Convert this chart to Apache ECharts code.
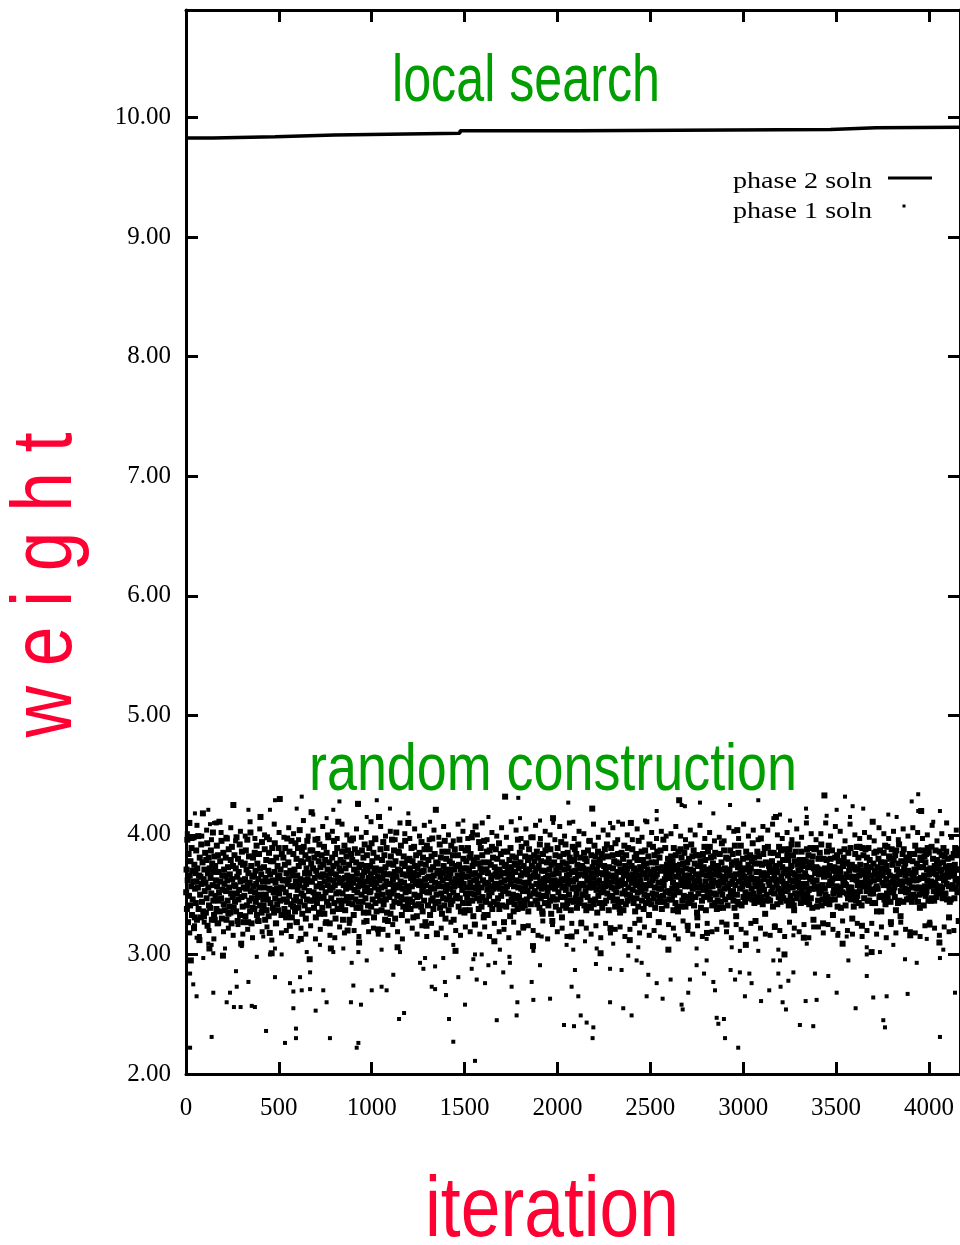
<!DOCTYPE html>
<html lang="en">
<head>
<meta charset="UTF-8">
<title>weight vs iteration</title>
<script src="https://cdn.jsdelivr.net/npm/echarts@6/dist/echarts.min.js"></script>
<style>
  html, body { margin: 0; padding: 0; background: #fff; }
  #chart { width: 960px; height: 1245px; }
</style>
</head>
<body>
<div id="chart"></div>
<script>
// axis ranges / ticks
const xMax = 4167;
const xInterval = 500;
const yMin = 2;
const yMax = 10.9;
const yInterval = 1;

// phase 2 (local search) best weight, step line: [iteration, weight]
const phase2Iter = [0, 145, 480, 800, 1475, 2100, 3470, 3715, 4167];
const phase2Weight = [9.83, 9.84, 9.855, 9.87, 9.89, 9.90, 9.915, 9.92, 9.92];

// phase 1 (random construction) weights in hundredths, sampled evenly over the iterations
const phase1Weight = [
  352,371,338,396,362,327,384,349,410,366,341,378,295,357,389,333,370,346,361,398,322,375,331,355,368,
  343,387,361,329,372,356,399,338,366,312,381,350,365,331,392,359,344,377,418,336,363,332,371,353,385,
  360,335,379,347,393,324,368,356,381,341,305,372,339,364,387,351,329,376,358,402,345,369,333,382,329,
  374,349,362,338,391,357,326,383,345,369,352,411,336,378,361,347,395,330,366,354,299,385,342,371,359,
  337,366,381,353,329,397,362,345,373,334,388,356,340,367,335,379,351,326,390,363,348,374,425,339,358,
  383,344,357,372,336,398,351,365,328,380,346,369,354,392,333,361,377,309,348,386,362,340,375,327,356,
  349,376,363,332,387,355,371,341,396,358,327,368,382,345,360,336,402,353,374,326,347,365,339,381,357,
  366,338,385,352,370,344,359,391,333,376,348,363,328,384,356,341,372,415,350,367,335,394,338,361,346,
  341,373,356,388,329,364,350,379,337,398,361,346,370,332,385,355,318,367,343,378,354,301,389,362,339,
  378,352,335,369,393,347,360,326,381,355,342,374,364,337,389,351,366,430,345,371,356,333,384,333,362,
  355,381,346,362,338,375,389,352,331,368,344,397,359,335,377,363,349,386,324,370,357,342,395,331,366,
  369,340,384,357,345,371,336,393,361,348,380,327,366,354,389,339,374,358,404,344,363,313,378,351,386,
  334,362,377,349,390,356,341,368,383,330,359,372,346,395,363,337,380,353,368,296,345,387,361,376,419,
  361,387,345,372,352,339,381,364,348,396,331,370,357,343,384,366,350,378,335,392,334,359,373,347,365,
  383,356,339,367,375,348,390,334,361,379,352,366,327,385,344,371,358,398,341,363,377,326,354,368,305,
  347,369,381,356,336,374,362,395,343,358,384,330,367,351,376,389,338,364,411,352,345,372,360,338,379,
  370,341,363,386,351,329,377,358,345,391,364,337,372,355,382,348,366,320,387,359,343,375,329,362,396,
  356,384,348,365,379,342,397,360,333,371,354,388,346,363,377,339,368,352,385,426,357,344,310,373,361,
  339,362,375,350,387,366,344,358,381,335,369,392,353,347,374,361,328,383,356,370,341,335,364,389,352,
  374,353,367,340,393,359,378,346,363,385,331,369,356,397,343,372,360,336,381,349,365,321,354,415,370,
  362,345,388,371,356,337,379,364,350,394,342,368,383,357,329,373,346,361,389,335,367,328,352,376,359,
  348,376,359,334,382,367,351,396,340,363,375,354,387,344,369,330,378,358,402,365,349,306,371,386,356,
  385,357,343,370,361,391,348,333,376,355,367,340,382,360,346,374,395,352,338,366,339,379,357,343,410,
  353,369,380,346,372,338,364,389,357,344,378,362,331,368,390,350,374,341,359,383,366,332,348,372,361,
  367,342,358,385,349,376,361,340,394,369,353,336,381,357,370,345,388,363,327,375,358,324,391,352,364,
  341,379,365,352,388,333,371,356,345,382,362,397,347,373,338,366,355,384,360,343,421,377,350,317,368,
  376,359,344,370,357,392,339,365,381,351,368,334,386,362,347,374,357,341,395,369,330,353,380,364,346,
  358,386,371,337,364,349,378,355,368,342,391,360,376,345,383,352,329,371,357,388,363,303,347,374,360,
  349,366,383,361,340,375,396,347,358,371,336,363,389,354,367,343,380,359,372,335,365,337,387,351,378,
  372,348,356,389,365,343,370,381,337,360,384,351,367,398,345,374,356,332,379,362,350,325,368,407,355,
  363,381,347,359,376,352,338,394,366,345,372,389,356,340,369,383,348,362,377,331,395,333,359,371,344,
  345,371,386,354,333,368,360,377,349,387,357,342,375,363,352,390,338,366,381,355,344,311,373,359,367,
  388,356,369,342,380,365,347,359,393,338,371,355,366,384,349,360,377,341,368,353,386,327,362,375,432,
  355,374,340,368,357,386,371,351,363,344,379,367,332,389,359,373,346,364,382,350,369,336,357,342,376,
  369,347,381,362,349,375,338,396,356,372,348,361,385,343,377,366,355,390,339,368,353,323,374,360,345,
  341,382,356,371,393,346,367,353,379,336,360,388,371,349,364,381,342,357,374,365,398,307,351,366,383,
  378,353,368,345,372,359,386,342,365,381,350,374,357,339,392,361,347,378,355,370,336,334,384,363,349,
  359,370,343,387,356,364,349,377,391,353,366,341,380,362,371,345,388,356,334,375,360,328,348,414,367,
  346,377,362,355,383,340,370,358,346,374,389,361,352,368,337,382,359,373,348,394,363,331,356,377,341,
  384,357,371,348,362,392,354,339,376,366,343,385,359,372,350,367,381,345,362,337,378,315,369,355,390,
  361,344,379,356,388,370,347,363,384,351,339,375,366,392,355,343,372,358,381,346,367,326,359,374,350,
  350,372,358,385,341,366,380,353,369,337,378,362,348,387,371,356,340,364,395,359,345,339,383,368,422,
  373,356,364,342,377,391,359,346,382,367,354,371,335,360,386,349,375,362,343,379,357,301,368,352,384,
  339,381,367,353,359,374,343,388,357,370,345,363,392,351,367,382,358,337,373,360,348,322,365,389,356,
  366,349,383,372,345,361,378,355,340,393,364,352,377,346,369,357,384,343,361,376,338,335,371,358,344,
  385,362,351,369,380,337,366,391,353,374,359,342,383,368,350,372,345,389,356,363,377,312,349,366,410,
  347,374,360,388,354,367,343,372,363,381,336,358,370,384,347,361,379,352,340,395,366,329,357,373,362,
  371,353,386,345,367,379,358,338,374,350,368,387,355,343,376,364,349,371,358,382,345,333,392,359,367,
  358,369,342,377,362,351,390,364,347,371,383,356,339,365,377,350,367,386,344,372,360,327,355,381,348,
  344,387,370,355,338,373,361,349,396,358,344,371,363,389,352,368,341,375,364,353,380,304,369,346,374,
  377,351,364,382,369,346,355,378,360,337,389,350,374,357,343,383,365,354,371,339,358,336,386,367,429,
  352,375,388,340,363,381,370,345,358,376,362,349,385,366,357,340,372,390,348,364,377,324,343,361,380,
  366,343,357,371,350,392,346,364,382,355,370,387,341,359,376,362,348,367,383,356,335,331,374,351,365,
  383,361,374,356,378,339,367,357,345,369,384,354,373,348,390,356,379,361,337,371,366,318,352,386,357,
  348,369,352,390,346,364,381,372,359,341,357,376,362,382,351,367,343,385,369,350,374,338,360,345,373,
  370,358,339,366,384,353,361,344,377,393,350,365,339,371,360,387,355,372,346,363,381,325,368,357,341,
  356,380,367,348,371,359,387,352,366,349,375,361,384,353,345,377,364,339,391,358,367,332,378,350,404,
  344,373,385,361,342,376,355,368,391,364,341,370,357,366,380,348,372,359,365,344,352,308,386,371,363,
  381,349,361,375,358,347,369,383,350,372,364,355,378,346,393,363,351,381,343,376,360,328,357,369,348,
  363,386,345,358,369,382,353,376,344,361,397,348,366,375,357,342,384,368,354,363,389,334,345,377,366,
  350,367,376,390,346,361,374,358,369,345,385,371,352,363,378,356,340,370,385,351,366,323,374,362,415,
  374,358,342,369,383,355,348,390,362,376,353,344,387,365,350,373,361,379,347,368,357,300,388,353,370,
  359,345,371,384,354,366,379,341,357,388,369,362,349,374,392,345,368,356,383,361,341,337,367,378,351,
  386,363,357,347,375,392,360,370,351,365,379,356,371,343,359,386,352,365,374,348,379,314,356,344,368,
  347,378,365,359,388,351,344,373,383,354,342,376,363,389,347,364,377,355,339,382,361,329,372,388,357,
  368,355,389,373,362,340,372,356,345,380,367,351,385,357,371,353,392,341,369,358,346,326,380,365,433,
  355,372,350,343,367,379,386,348,369,358,391,366,342,374,361,380,346,372,359,387,363,333,351,370,354,
  373,346,381,364,352,369,357,383,340,372,355,378,364,350,386,369,356,339,378,364,352,309,374,359,381,
  362,388,359,376,341,358,367,351,377,365,347,385,356,370,352,374,365,389,346,356,375,330,363,348,372,
  340,365,373,352,384,371,345,362,390,349,371,358,381,343,366,390,353,375,360,368,341,324,389,370,358,
  383,357,347,367,359,388,364,374,353,381,362,345,369,389,357,345,379,361,351,373,366,302,354,343,411,
  351,376,362,385,370,343,355,367,386,357,336,373,355,364,380,363,348,368,387,349,377,336,372,366,360,
  367,349,385,358,346,377,391,342,371,363,374,351,390,347,369,358,382,354,366,380,344,327,360,388,352,
  375,361,352,379,365,356,348,383,359,337,387,364,371,359,343,376,369,392,345,367,361,332,353,378,369,
  358,384,369,344,388,372,361,355,376,366,352,380,346,381,362,354,370,347,379,360,384,316,368,349,356,
  344,367,378,362,350,364,384,371,348,391,369,356,362,376,355,387,344,363,373,356,350,339,381,364,420,
  379,353,364,387,373,351,341,366,382,357,377,349,384,353,371,362,389,357,345,385,367,325,358,372,345,
  361,390,347,370,359,380,368,353,345,374,360,387,358,367,348,379,355,372,364,351,376,310,386,357,370,
  352,371,383,356,366,347,377,389,362,350,382,364,351,373,386,359,346,369,380,365,357,331,374,344,366,
  370,346,366,381,355,373,358,367,384,368,347,375,389,362,356,371,383,363,352,388,371,328,360,387,363
];

// phase 1 weights near the upper and lower rim of the dense band (hundredths), also evenly sampled
const phase1Rim = [
  401,318,397,324,408,315,399,327,404,320,396,313,410,326,402,319,398,322,406,316,
  395,325,403,317,399,321,411,314,397,328,405,319,400,323,396,312,409,326,402,318,
  398,320,406,315,401,327,396,322,412,317,399,324,404,313,397,321,407,326,400,316,
  403,314,397,323,409,318,400,326,395,320,405,315,398,327,402,319,411,322,396,317,
  407,321,399,316,403,325,396,319,410,313,401,328,397,322,405,317,399,324,408,315,
  396,326,404,318,398,322,407,314,400,327,395,320,409,316,403,323,397,319,402,325,
  400,317,410,323,396,315,402,326,399,319,406,321,398,314,411,327,404,318,397,322,
  405,324,398,320,408,316,397,328,403,313,400,325,396,319,407,322,399,315,410,326,
  397,319,403,327,401,322,395,317,409,324,398,314,404,326,400,318,406,321,396,323,
  409,315,400,321,396,326,405,318,398,323,411,316,402,320,397,327,403,314,399,325,
  401,322,407,313,399,328,396,320,404,317,400,324,408,315,397,326,402,319,395,321,
  398,327,395,319,406,314,403,325,397,321,409,318,399,326,404,313,396,322,407,317,
  404,316,409,324,400,320,397,315,402,327,396,322,405,319,398,325,410,314,401,323,
  396,323,401,318,410,325,399,321,407,316,403,328,395,320,409,317,400,326,397,315,
  402,320,398,326,395,317,406,323,401,314,397,325,403,318,396,327,405,321,399,319,
  406,318,402,315,397,324,400,327,408,322,395,316,401,323,410,319,398,320,404,328
];

// phase 1 stragglers: [iteration, weight]
const phase1Low = [
  [57,3.14],[120,3.09],[147,3.01],[93,2.97],[22,2.84],[39,2.75],[57,2.65],[138,2.31],[22,2.22],[269,2.86],
  [273,2.73],[336,2.77],[147,2.68],[237,2.68],[219,2.60],[258,2.56],[294,2.56],[354,2.57],[371,2.56],[431,2.36],
  [479,2.81],[533,2.26],[560,2.76],[578,2.69],[614,2.81],[623,2.70],[668,2.85],[668,2.71],[592,2.38],[592,2.30],
  [578,2.55],[698,2.53],[739,2.70],[757,2.60],[775,2.30],[888,2.60],[942,2.58],[901,2.74],[928,2.26],[919,2.22],
  [1000,2.70],[1053,2.73],[1080,2.70],[1116,2.83],[1147,2.46],[1174,2.51],[1260,2.93],[1278,2.88],[1341,2.90],[1323,2.73],
  [1341,2.71],[1394,2.77],[1400,2.66],[1416,2.46],[1439,2.27],[1502,2.58],[1538,2.88],[1466,2.81],[1556,2.11],[1565,2.79],
  [1610,2.76],[1673,2.45],[1708,2.85],[1753,2.73],[1784,2.60],[1780,2.49],[1861,2.77],[1870,2.62],[1960,2.63],[1906,2.91],
  [1870,3.03],[1915,3.15],[1741,2.98],[1744,2.93],[1664,2.93],[1628,2.91],[1592,3.00],[1690,3.04],[1547,2.96],[1556,3.00],
  [1439,3.08],[1385,2.97],[1287,2.97],[1152,3.02],[1053,3.04],[973,2.95],[928,3.02],[892,2.93],[847,3.05],[793,3.02],
  [721,3.08],[650,3.02],[605,3.11],[515,3.00],[452,3.00],[479,3.05],[381,2.98],[300,3.07],[210,3.05],[138,3.08],
  [416,3.15],
  [2049,3.08],[2094,2.87],[2076,2.73],[2112,2.65],[2125,2.49],[2035,2.41],[2089,2.40],[2157,2.43],[2193,2.39],[2189,2.30],
  [2207,2.92],[2283,2.88],[2345,2.87],[2283,2.60],[2354,2.55],[2399,2.49],[2426,2.95],[2453,2.93],[2381,2.99],[2489,2.83],
  [2534,2.76],[2566,2.63],[2480,2.65],[2609,2.79],[2668,2.58],[2674,2.54],[2713,2.79],[2749,2.91],[2803,2.95],[2789,2.84],
  [2704,2.68],[2839,2.77],[2848,2.70],[2857,2.47],[2896,2.46],[2902,2.30],[2866,2.42],[2973,2.22],[2932,2.87],[2982,2.85],
  [2956,2.79],[3033,2.84],[3045,2.76],[3009,2.65],[3096,2.61],[3140,2.70],[3162,2.95],[3198,2.95],[3189,2.84],[3201,2.73],
  [3212,2.60],[3230,2.54],[3243,2.78],[3270,2.85],[3305,2.41],[3336,2.61],[3377,2.40],[3386,2.84],[3395,2.62],[3458,2.82],
  [3503,2.68],[3566,2.95],[3605,2.55],[3665,2.82],[3665,3.00],[3700,2.64],[3772,2.65],[3754,2.45],[3763,2.39],[3871,2.96],
  [3885,2.67],[3934,2.93],[4059,2.97],[4059,2.31],[4140,2.68],[4077,3.04],[3988,3.13],[3808,3.08],[3736,3.02],[3665,3.06],
  [3557,3.15],[3512,3.18],[3342,3.09],[3270,3.16],[3189,3.04],[3081,3.03],[2982,3.03],[2938,3.06],[2803,3.13],[2749,3.05],
  [2633,3.16],[2552,3.15],[2435,3.06],[2300,3.09],[2211,3.05],[2148,3.11],[2085,3.04]
];
const phase1High = [
  [479,4.29],[623,4.32],[826,4.28],[928,4.25],[1027,4.29],[1098,4.22],[1197,4.18],[1789,4.31],[336,4.21],[452,4.21],
  [596,4.22],[120,4.21],[48,4.18],[973,4.15],[685,4.17],[757,4.14],[1314,4.11],[1493,4.12],[1628,4.15],[1798,4.14],
  [1906,4.12],[1977,4.10],[793,4.21],[151,4.10],[129,4.09],
  [2058,4.27],[2534,4.20],[2686,4.24],[2767,4.27],[2929,4.25],[3081,4.29],[3548,4.32],[3942,4.34],[3907,4.28],[3942,4.20],
  [3589,4.24],[3646,4.22],[3503,4.21],[3338,4.22],[2839,4.18],[3198,4.17],[3162,4.14],[3252,4.12],[3342,4.15],[3449,4.16],
  [3575,4.15],[3781,4.17],[4059,4.20],[4023,4.11],[3826,4.15],[2327,4.11],[2283,4.10],[2085,4.11],[2668,4.25],[2534,4.13],
  [2471,4.12]
];

const legendNames = ['phase 2 soln', 'phase 1 soln'];

// ---- build series data ----
const spread = arr => arr.map((w, i) => [Math.round((i + 0.5) * xMax / arr.length), w / 100]);
const phase2Data = phase2Iter.map((it, i) => [it, phase2Weight[i]]);
const bandData = spread(phase1Weight);
const rimData = spread(phase1Rim);
const strayData = phase1Low.concat(phase1High);

// stretch text horizontally to a measured width (condensed faces are not installed)
const measureCtx = document.createElement('canvas').getContext('2d');
function fit(text, size, family, width) {
  measureCtx.font = size + 'px ' + family;
  return width / measureCtx.measureText(text).width;
}

const SANS = 'Liberation Sans';
const SERIF = 'Liberation Serif';
const RED = '#ff0033';
const GREEN = '#009e00';

const chart = echarts.init(document.getElementById('chart'));

const axisCommon = {
  type: 'value',
  axisLine: { show: true, onZero: false, lineStyle: { color: '#000', width: 3 } },
  axisTick: { show: true, inside: true, length: 12, lineStyle: { color: '#000', width: 3 } },
  splitLine: { show: false }
};

const dots = (data, size) => ({
  name: legendNames[1],
  type: 'scatter',
  data: data,
  symbol: 'rect',
  symbolSize: size,
  itemStyle: { color: '#000', opacity: 1 },
  z: 4
});

const option = {
  animation: false,
  backgroundColor: '#fff',
  grid: { left: 186, right: 0, top: 10, bottom: 171 },
  xAxis: [
    Object.assign({}, axisCommon, {
      position: 'bottom', min: 0, max: xMax, interval: xInterval,
      axisLabel: {
        color: '#000', fontFamily: SERIF, fontSize: 25, margin: 22, showMaxLabel: false,
        formatter: v => String(v)
      }
    }),
    Object.assign({}, axisCommon, {
      position: 'top', min: 0, max: xMax, interval: xInterval,
      axisLabel: { show: false }
    })
  ],
  yAxis: [
    Object.assign({}, axisCommon, {
      position: 'left', min: yMin, max: yMax, interval: yInterval,
      axisLabel: {
        color: '#000', fontFamily: SERIF, fontSize: 25, margin: 15, showMaxLabel: false,
        formatter: v => v.toFixed(2)
      }
    }),
    Object.assign({}, axisCommon, {
      position: 'right', min: yMin, max: yMax, interval: yInterval,
      axisLabel: { show: false }
    })
  ],
  series: [
    {
      name: legendNames[0],
      type: 'line',
      step: 'end',
      data: phase2Data,
      showSymbol: false,
      lineStyle: { color: '#000', width: 3.5 },
      z: 3
    },
    dots(bandData, 6),
    dots(rimData, 5),
    dots(strayData, 4)
  ],
  graphic: [
    {
      type: 'text', x: 526, y: 83, z: 1,
      scaleX: fit('local search', 66, SANS, 268),
      style: { text: 'local search', fontSize: 66, fontFamily: SANS, fill: GREEN, align: 'center', verticalAlign: 'middle' }
    },
    {
      type: 'text', x: 553, y: 772, z: 1,
      scaleX: fit('random construction', 66, SANS, 488),
      style: { text: 'random construction', fontSize: 66, fontFamily: SANS, fill: GREEN, align: 'center', verticalAlign: 'middle' }
    },
    {
      type: 'text', x: 552, y: 1212,
      scaleX: fit('iteration', 86, SANS, 254),
      style: { text: 'iteration', fontSize: 86, fontFamily: SANS, fill: RED, align: 'center', verticalAlign: 'middle' }
    },
    {
      type: 'text', x: 47, y: 585, rotation: Math.PI / 2,
      scaleX: fit('w e i g h t', 86, SANS, 305),
      style: { text: 'w e i g h t', fontSize: 86, fontFamily: SANS, fill: RED, align: 'center', verticalAlign: 'middle' }
    },
    // legend
    {
      type: 'text', x: 872, y: 182,
      scaleX: fit(legendNames[0], 23, SERIF, 139),
      style: { text: legendNames[0], fontSize: 23, fontFamily: SERIF, fill: '#000', align: 'right', verticalAlign: 'middle' }
    },
    {
      type: 'line', shape: { x1: 888, y1: 178, x2: 932, y2: 178 },
      style: { stroke: '#000', lineWidth: 3 }
    },
    {
      type: 'text', x: 872, y: 212,
      scaleX: fit(legendNames[1], 23, SERIF, 139),
      style: { text: legendNames[1], fontSize: 23, fontFamily: SERIF, fill: '#000', align: 'right', verticalAlign: 'middle' }
    },
    {
      type: 'rect', shape: { x: 902.5, y: 204.5, width: 3, height: 3 },
      style: { fill: '#000' }
    }
  ]
};

chart.setOption(option);
</script>
</body>
</html>
